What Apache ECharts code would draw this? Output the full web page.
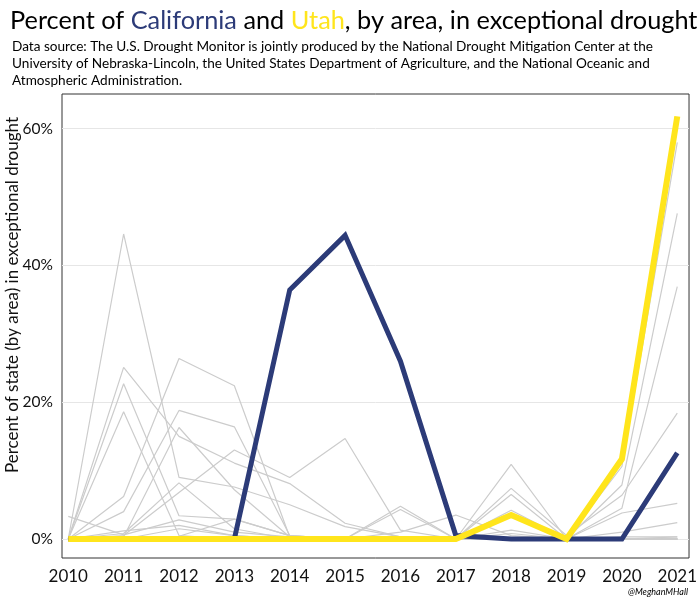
<!DOCTYPE html>
<html><head><meta charset="utf-8">
<script src="https://cdn.jsdelivr.net/npm/echarts@6/dist/echarts.min.js"></script>
<style>html,body{margin:0;padding:0;background:#fff}#c{width:700px;height:600px}</style>
</head><body><div id="c"></div>
<script>
const years = [2010,2011,2012,2013,2014,2015,2016,2017,2018,2019,2020,2021];
const yTicks = [0,20,40,60];
const california = [0,0,0,0,36.4,44.4,26.0,0.5,0,0,0,12.6];
const utah = [0,0,0,0,0,0,0,0,3.5,0,11.7,61.8];
const otherStates = [
  [0,44.6,9.0,7.6,5.0,1.8,0.3,0,0,0,0,0],
  [0,25.1,15.0,11.1,8.1,2.3,0.3,0,0,0,0,0],
  [0,22.7,3.4,2.9,0.5,0,0,0,0,0,0,0],
  [0,18.6,0.5,0,0,0,0,0,0,0,0,0],
  [0,6.2,26.4,22.4,0.3,0,0,0,0,0,0,0],
  [0,4.0,18.8,16.4,0.5,0,0,0,0,0,0,0],
  [0,0.3,16.3,7.2,0.3,0,0,0,0,0,0,0],
  [0,0.5,6.8,13.0,9.0,14.7,1.3,0,0.8,0,10.6,58.0],
  [3.3,0.6,2.8,1.0,0.3,0,4.8,0,0,0,0,0.3],
  [0,0.8,8.2,1.5,0,0,4.3,0,0,0,0,0],
  [0,0,1.5,0.5,0,0,1.0,3.5,0.5,0,7.9,47.6],
  [0,0,0,0,0,0,0,0,10.9,0,4.5,36.9],
  [0,0,0,0,0,0,0,0,7.4,0.5,6.4,18.4],
  [0,0,0,0,0,0,0,0,6.5,0,3.8,5.2],
  [0,1.2,2.0,0.5,0,0,0,0,4.2,0,1.0,2.4],
  [0,0,0.4,2.9,0.5,0,0,0,1.3,0,0.3,0.3],
  [0,0,0,0,0,0,0,0,0,0,0,0]
];
const FONT = 'Lato, "Open Sans", sans-serif';
const pair = arr => arr.map((v,i)=>[years[i], v]);
const series = otherStates.map(s => ({
  type:'line', data: pair(s), symbol:'none', silent:true,
  lineStyle:{color:'#cccccc', width:1.2}, z:1
}));
series.push({type:'line', data: pair(california), symbol:'none',
  lineStyle:{color:'#2C3B78', width:5, join:'miter'}, z:3});
series.push({type:'line', data: pair(utah), symbol:'none',
  lineStyle:{color:'#FFE51C', width:6, join:'miter'}, z:4});

const chart = echarts.init(document.getElementById('c'), null, {renderer:'canvas'});
const tStyle = c => ({fontFamily:FONT, fontSize:25.3, fontWeight:'normal', color:c});
chart.setOption({
  animation:false,
  backgroundColor:'#fff',
  title:[
    {left:5, top:3,
     text:'{a|Percent of }{b|California}{a| and }{c|Utah}{a|, by area, in exceptional drought}',
     textStyle:{fontWeight:'normal', rich:{a:tStyle('#000'), b:tStyle('#2C3B78'), c:tStyle('#FFE51C')}}},
    {left:7, top:33,
     text:'Data source: The U.S. Drought Monitor is jointly produced by the National Drought Mitigation Center at the\nUniversity of Nebraska-Lincoln, the United States Department of Agriculture, and the National Oceanic and\nAtmospheric Administration.',
     textStyle:{fontFamily:FONT, fontSize:13.6, color:'#000', fontWeight:'normal', lineHeight:17}},
    {right:7, top:583, text:'@MeghanMHall',
     textStyle:{fontFamily:FONT, fontSize:9, fontStyle:'italic', color:'#000', fontWeight:'normal'}}
  ],
  grid:{left:62, right:8, top:94, bottom:42, show:true, borderColor:'#333', borderWidth:1, containLabel:false},
  xAxis:{type:'value', min:2009.887, max:2021.212,
    axisLine:{show:false}, axisTick:{show:false, customValues:years},
    splitLine:{show:false},
    axisLabel:{customValues:years, fontFamily:FONT, fontSize:17, color:'#111', margin:10, formatter:v=>String(v)}},
  yAxis:{type:'value', min:-2.78, max:65.07,
    axisLine:{show:false}, axisTick:{show:false, customValues:yTicks},
    splitLine:{show:true, lineStyle:{color:'#e6e6e6', width:1}},
    axisLabel:{customValues:yTicks, fontFamily:FONT, fontSize:15.5, color:'#111', margin:9, formatter:v=>v+'%'}},
  graphic:[{type:'text', x:13, y:295, rotation:Math.PI/2,
    style:{text:'Percent of state (by area) in exceptional drought', font:'17px '+FONT, fill:'#111', textAlign:'center', textVerticalAlign:'middle'}}],
  series: series
});
</script></body></html>
